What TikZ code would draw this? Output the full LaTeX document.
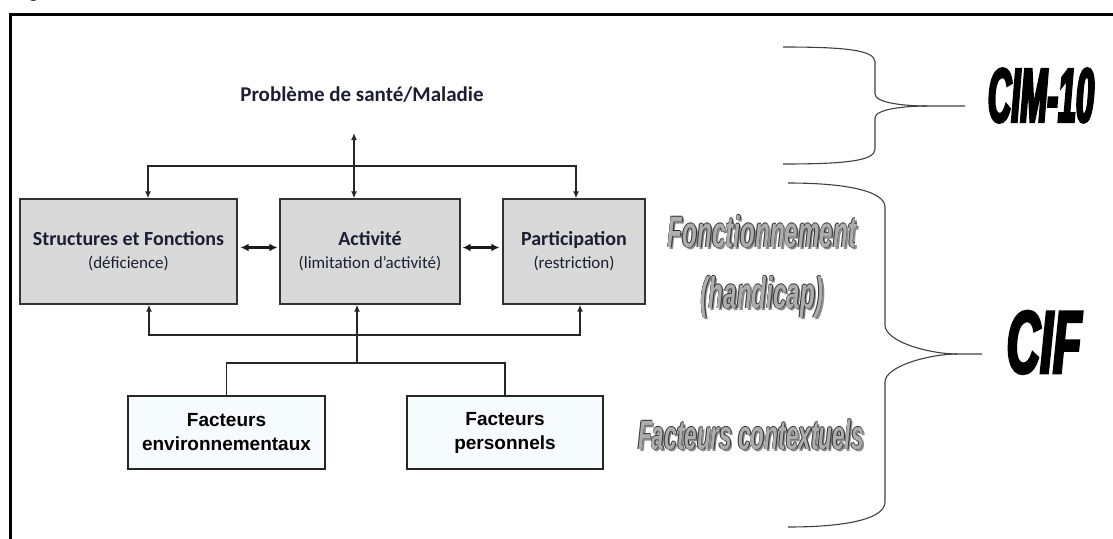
\documentclass[tikz,border=0pt]{standalone}
\usepackage{fontspec}
\setmainfont{Carlito}
\newfontfamily\arialfont{Liberation Sans}
\newfontfamily\artfont{Liberation Sans}[FakeStretch=0.55]
\newfontfamily\cimfont{Liberation Sans}[FakeStretch=0.42,FakeBold=3]
\newfontfamily\ciffont{Liberation Sans}[FakeStretch=0.52,FakeBold=3]
\usetikzlibrary{arrows.meta}

\definecolor{boxgray}{RGB}{217,217,217}
\definecolor{boxtext}{RGB}{28,30,52}
\definecolor{factfill}{RGB}{246,251,254}

% grey letters with a dark rim and a soft shadow
\newcommand\outlinetext[1]{%
  \rlap{\kern2pt\raisebox{-2pt}{\color{black!45}#1}}%
  \rlap{\kern-.7pt\color{black!80}#1}\rlap{\kern.7pt\color{black!80}#1}%
  \rlap{\raisebox{.7pt}{\color{black!80}#1}}\rlap{\raisebox{-.7pt}{\color{black!80}#1}}%
  {\color{black!32}#1}}

\begin{document}
\begin{tikzpicture}[x=1pt,y=-1pt,
  compbox/.style={draw=black!80, line width=1.3pt, fill=boxgray, text=boxtext,
    align=center, inner sep=0pt, font=\fontsize{20}{23}\selectfont},
  factbox/.style={draw=black!85, line width=2pt, fill=factfill, align=center,
    inner sep=0pt, font=\arialfont\bfseries\fontsize{19}{24}\selectfont},
  link/.style={line width=1.6pt, draw=black!85},
  tip/.style={-{Latex[length=7pt,width=6pt]}},
  tips/.style={{Latex[length=7pt,width=6pt]}-{Latex[length=7pt,width=6pt]}},
  bilink/.style={line width=3pt, draw=black!90,
    {Latex[length=8pt,width=8pt]}-{Latex[length=8pt,width=8pt]}},
  brace/.style={line width=1.1pt, draw=black!75},
  wordart/.style={inner sep=0pt, anchor=base, font=\artfont\bfseries\itshape\fontsize{44}{44}\selectfont}
]
\useasboundingbox (0,0) rectangle (1113,538);

% frame
\node[anchor=base west, inner sep=0pt, font=\arialfont\bfseries\fontsize{18}{18}\selectfont] (figcap) at (12,-2) {Figure};
\draw[line width=2.5pt] (10.5,545) -- (10.5,14.5) -- (1120,14.5);

% health condition
\node[anchor=base, inner sep=0pt, text=boxtext, font=\bfseries\fontsize{21}{24}\selectfont] (health) at (362,101) {Problème de santé/Maladie};

% components
\node[compbox, minimum width=217pt, minimum height=105pt] (sf) at (128.5,251.5)
  {\bfseries Structures et Fonctions\\{\fontsize{17}{23}\selectfont(déficience)}};
\node[compbox, minimum width=180pt, minimum height=105pt] (act) at (370,251.5)
  {\bfseries Activité\\{\fontsize{17}{23}\selectfont(limitation d’activité)}};
\node[compbox, minimum width=142pt, minimum height=105pt] (part) at (574,251.5)
  {\bfseries Participation\\{\fontsize{17}{23}\selectfont(restriction)}};

% contextual factors
\node[factbox, minimum width=197pt, minimum height=73pt] (envf) at (226.5,432.5)
  {Facteurs\\environnementaux};
\node[factbox, minimum width=196pt, minimum height=73pt] (persf) at (505,432.5)
  {Facteurs\\personnels};

% links on top
\coordinate (hup) at (354,133);
\coordinate (tl) at (148,166);
\coordinate (tr) at (576,166);
\draw[link,tips] (hup) -- (act.north -| hup);
\draw[link,tips] (sf.north -| tl) -- (tl) -- (tr) -- (part.north -| tr);

% links between components
\draw[bilink] ([xshift=3pt,yshift=4pt]sf.east) -- ([xshift=-2pt,yshift=4pt]act.west);
\draw[bilink] ([xshift=2pt,yshift=4pt]act.east) -- ([xshift=-3pt,yshift=4pt]part.west);

% links below
\coordinate (bl) at (149,335);
\coordinate (br) at (580,335);
\coordinate (hub) at (357,363);
\draw[link,tips] (sf.south -| bl) -- (bl) -- (br) -- (part.south -| br);
\draw[link,tip] (hub) -- (act.south -| hub);
\draw[link] (envf.north) -- (envf.north |- hub) -- (persf.north |- hub) -- (persf.north);

% braces
\draw[brace] (783,47) .. controls (845,47) and (875,50) .. (875,62) -- (875,94)
  .. controls (875,103) and (905,106) .. (927,106) -- (965,106);
\draw[brace] (783,164) .. controls (845,164) and (875,161) .. (875,149) -- (875,118)
  .. controls (875,109) and (905,106) .. (927,106);
\draw[brace] (788,183) .. controls (850,183) and (885,192) .. (885,207) -- (885,325)
  .. controls (885,342) and (930,354) .. (957,354) -- (982,354);
\draw[brace] (788,527) .. controls (850,527) and (885,518) .. (885,502) -- (885,382)
  .. controls (885,366) and (930,354) .. (957,354);

% classifications
\node[wordart] (fonct) at (762,247) {\outlinetext{Fonctionnement}};
\node[wordart] (handi) at (762,308) {\outlinetext{(handicap)}};
\node[wordart, font=\artfont\bfseries\itshape\fontsize{41}{41}\selectfont] (context) at (751,449) {\outlinetext{Facteurs contextuels}};
\node[anchor=base, inner sep=0pt, font=\cimfont\bfseries\itshape\fontsize{77}{77}\selectfont] (cim) at (1041,122) {CIM-10};
\node[anchor=base, inner sep=0pt, font=\ciffont\bfseries\itshape\fontsize{89}{89}\selectfont] (cif) at (1044,373) {CIF};

\end{tikzpicture}
\end{document}
